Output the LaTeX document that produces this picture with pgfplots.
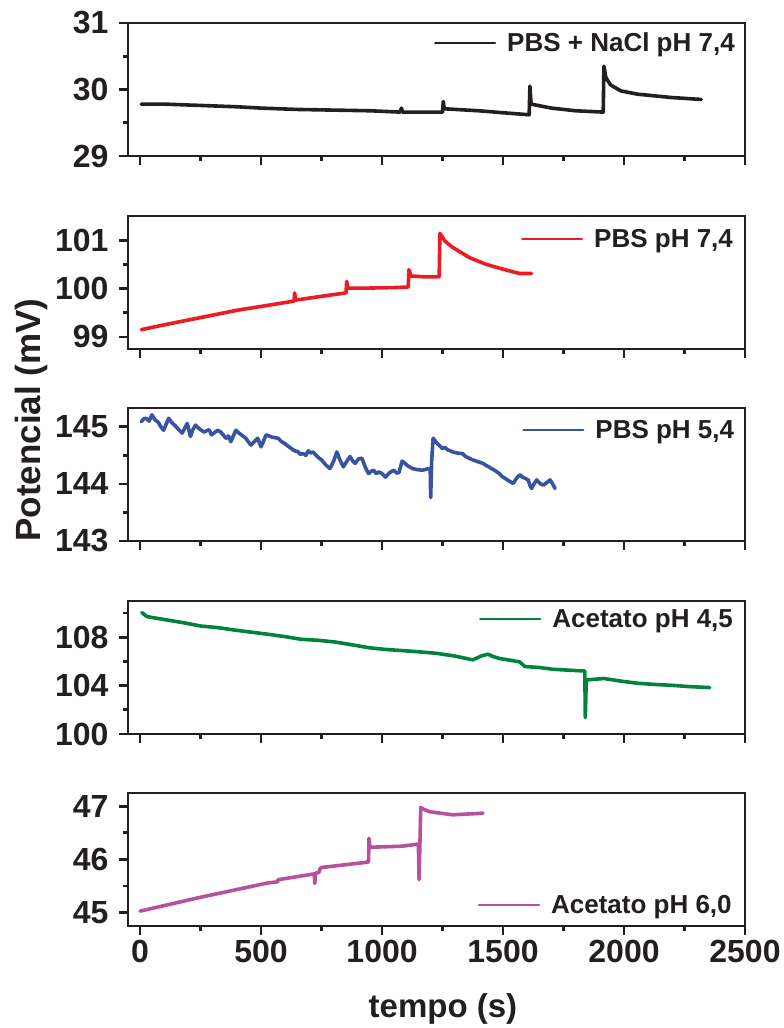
\documentclass[border=0pt]{standalone}
\usepackage{fontspec}
\setmainfont{Liberation Sans}
\usepackage{pgfplots}
\pgfplotsset{compat=1.18}

\definecolor{ink}{RGB}{35,31,32}
\definecolor{cRed}{RGB}{237,28,36}
\definecolor{cBlue}{RGB}{57,83,164}
\definecolor{cGreen}{RGB}{0,132,61}
\definecolor{cMag}{RGB}{183,80,158}

\pgfplotsset{
  panel/.style={
    scale only axis, width=617pt, height=133pt, anchor=south west,
    xmin=-50, xmax=2500,
    axis line style={ink, line width=2.8pt},
    every tick/.style={ink, line width=2.8pt},
    tick align=outside,
    major tick length=9pt, minor tick length=5pt,
    xtick pos=left, ytick pos=left,
    xtick={0,500,...,2500}, minor xtick={250,750,...,2250},
    scaled ticks=false,
    /pgf/number format/1000 sep={},
    /pgf/number format/assume math mode=true,
    ticklabel style={font=\fontsize{32}{32}\selectfont\bfseries, text=ink},
    yticklabel style={xshift=-7pt},
    xticklabel style={yshift=-2pt},
    legend style={draw=none, fill=none, inner sep=0pt,
      font=\fontsize{26}{26}\selectfont\bfseries, text=ink,
      /tikz/column sep=9pt, anchor=east},
    legend cell align=left,
    legend image code/.code={\draw[line width=2.2pt] (0pt,0pt) -- (60pt,0pt);},
  },
  trace/.style={line width=3.6pt, line join=round, line cap=round},
}

\begin{document}
\begin{tikzpicture}
\useasboundingbox (0,0) rectangle (784pt,1028pt);

% PBS + NaCl pH 7,4
\begin{axis}[panel, at={(128pt,872pt)}, xticklabels={},
  ymin=29, ymax=31, ytick={29,30,31}, minor ytick={29.5,30.5},
  legend style={at={(axis description cs:0.987,0.85)}}]
\addplot[trace, ink] coordinates {
(5,29.78) (100,29.78) (250,29.76) (400,29.74) (500,29.72) (650,29.70)
(800,29.69) (950,29.68) (1075,29.66) (1080,29.72) (1085,29.66)
(1250,29.66) (1253,29.82) (1257,29.71) (1400,29.68) (1500,29.65)
(1608,29.62) (1611,30.05) (1616,29.78) (1700,29.72) (1800,29.68)
(1914,29.66) (1917,30.35) (1925,30.18) (1944,30.07) (1986,29.98)
(2055,29.93) (2194,29.88) (2319,29.85)};
\addlegendentry{PBS + NaCl pH 7,4}
\end{axis}

% PBS pH 7,4
\begin{axis}[panel, at={(128pt,679pt)}, xticklabels={},
  ymin=98.75, ymax=101.5, ytick={99,100,101}, minor ytick={99.5,100.5},
  legend style={at={(axis description cs:0.984,0.826)}}]
\addplot[trace, cRed] coordinates {
(5,99.15) (100,99.25) (200,99.35) (300,99.45) (400,99.55) (500,99.63)
(636,99.74) (639,99.91) (642,99.76) (750,99.84) (851,99.91) (854,100.15)
(858,100.01) (950,100.01) (1050,100.02) (1108,100.03) (1111,100.39)
(1120,100.26) (1180,100.24) (1236,100.24) (1239,101.14) (1260,100.98)
(1292,100.85) (1361,100.64) (1430,100.50) (1500,100.40) (1569,100.31)
(1618,100.31)};
\addlegendentry{PBS pH 7,4}
\end{axis}

% PBS pH 5,4
\begin{axis}[panel, at={(128pt,487pt)}, xticklabels={},
  ymin=143, ymax=145.33, ytick={143,144,145}, minor ytick={143.5,144.5},
  legend style={at={(axis description cs:0.986,0.835)}},
  ylabel={Potencial (mV)},
  ylabel style={font=\fontsize{35}{35}\selectfont\bfseries, text=ink,
    at={(axis description cs:-0.157,0.91)}, anchor=center}]
\addplot[trace, cBlue] coordinates {
(5,145.09) (15,145.14) (25,145.15) (37,145.10) (49,145.21) (62,145.12)
(75,145.08) (86,145.00) (97,144.94) (108,145.05) (118,145.15) (132,145.07)
(145,145.02) (160,144.95) (174,144.89) (185,144.98) (195,145.06)
(208,144.83) (218,144.95) (229,145.03) (246,144.96) (264,144.91)
(285,144.95) (295,144.86) (305,144.89) (320,144.94) (333,144.91)
(345,144.85) (355,144.80) (365,144.84) (375,144.74) (386,144.85)
(396,144.94) (406,144.90) (415,144.87) (437,144.80) (447,144.74)
(458,144.68) (472,144.74) (486,144.80) (500,144.65) (510,144.75)
(521,144.86) (545,144.82) (570,144.80) (585,144.74) (600,144.70)
(612,144.66) (625,144.62) (638,144.58) (650,144.57) (662,144.52)
(674,144.53) (685,144.50) (695,144.58) (705,144.54) (715,144.56)
(732,144.48) (750,144.42) (768,144.33) (785,144.27) (800,144.40)
(813,144.56) (826,144.42) (840,144.30) (855,144.40) (868,144.48)
(879,144.40) (889,144.36) (903,144.44) (917,144.45) (930,144.30)
(944,144.18) (955,144.22) (965,144.24) (976,144.18) (986,144.21)
(1000,144.18) (1014,144.12) (1032,144.20) (1049,144.24) (1060,144.19)
(1070,144.20) (1083,144.40) (1095,144.36) (1105,144.32) (1125,144.27)
(1145,144.25) (1167,144.24) (1185,144.26) (1199,144.27) (1201,143.76)
(1205,144.40) (1211,144.80) (1222,144.74) (1230,144.70) (1240,144.66)
(1250,144.62) (1260,144.64) (1270,144.60) (1282,144.58) (1292,144.56)
(1312,144.54) (1333,144.53) (1345,144.48) (1355,144.46) (1365,144.44)
(1375,144.42) (1396,144.39) (1417,144.36) (1428,144.33) (1440,144.30)
(1452,144.27) (1465,144.24) (1475,144.21) (1485,144.18) (1496,144.13)
(1507,144.10) (1525,144.05) (1542,144.01) (1556,144.10) (1569,144.16)
(1580,144.12) (1590,144.10) (1604,144.07) (1611,143.98) (1618,143.92)
(1628,144.00) (1639,144.07) (1648,144.03) (1655,144.00) (1667,143.98)
(1680,144.02) (1694,144.07) (1705,144.00) (1715,143.92)};
\addlegendentry{PBS pH 5,4}
\end{axis}

% Acetato pH 4,5
\begin{axis}[panel, at={(128pt,294pt)}, xticklabels={},
  ymin=100, ymax=111, ytick={100,104,108}, minor ytick={102,106,110},
  legend style={at={(axis description cs:0.984,0.864)}}]
\addplot[trace, cGreen] coordinates {
(7,110.04) (28,109.71) (60,109.60) (111,109.43) (180,109.20) (250,108.93)
(320,108.80) (389,108.60) (460,108.42) (528,108.25) (600,108.05)
(667,107.83) (735,107.75) (805,107.61) (875,107.38) (944,107.14)
(1010,107.00) (1083,106.90) (1150,106.80) (1222,106.68) (1300,106.45)
(1375,106.13) (1410,106.45) (1438,106.60) (1460,106.40) (1486,106.24)
(1530,106.10) (1569,105.96) (1590,105.58) (1650,105.50) (1708,105.35)
(1770,105.28) (1838,105.21) (1840,101.36) (1844,104.47) (1917,104.59)
(1985,104.38) (2055,104.20) (2125,104.10) (2194,104.03) (2270,103.92)
(2354,103.84)};
\addlegendentry{Acetato pH 4,5}
\end{axis}

% Acetato pH 6,0
\begin{axis}[panel, at={(128pt,102pt)},
  ymin=44.75, ymax=47.25, ytick={45,46,47}, minor ytick={45.5,46.5},
  legend style={at={(axis description cs:0.982,0.156)}},
  xlabel={tempo (s)},
  xlabel style={font=\fontsize{33}{33}\selectfont\bfseries, text=ink,
    at={(axis description cs:0.5105,-0.69)}, anchor=base}]
\addplot[trace, cMag] coordinates {
(0,45.03) (250,45.29) (528,45.56) (568,45.58) (570,45.62) (720,45.73)
(722,45.55) (725,45.74) (740,45.76) (743,45.82) (750,45.85) (940,45.95)
(944,45.96) (946,46.40) (950,46.23) (1083,46.25) (1150,46.29)
(1153,45.62) (1160,46.98) (1170,46.95) (1194,46.90) (1292,46.84)
(1417,46.87)};
\addlegendentry{Acetato pH 6,0}
\end{axis}
\end{tikzpicture}
\end{document}
